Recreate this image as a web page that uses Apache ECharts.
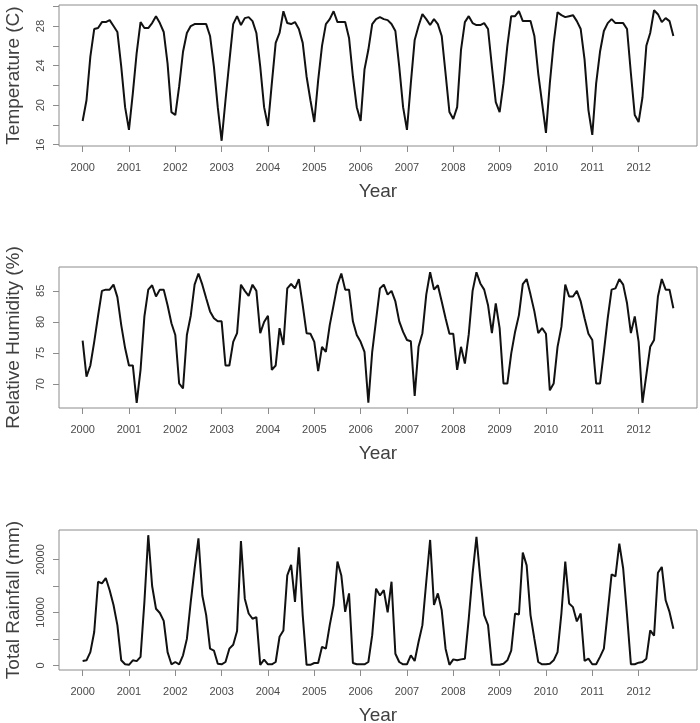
<!DOCTYPE html>
<html><head><meta charset="utf-8">
<script src="https://cdn.jsdelivr.net/npm/echarts@6/dist/echarts.min.js"></script>
<style>html,body{margin:0;padding:0;background:#fff}#c{width:700px;height:723px}</style>
</head><body><div id="c"></div>
<script>
// ---- data (monthly, Jan 2000 - Oct 2012) ----
const startYear = 2000;
const temperature = [
18.4,20.5,24.9,27.7,27.8,28.4,28.4,28.6,28.0,27.4,23.9,19.8,
17.5,21.2,25.3,28.4,27.8,27.8,28.3,29.0,28.3,27.4,24.2,19.3,
19.0,21.9,25.4,27.3,28.0,28.2,28.2,28.2,28.2,27.0,23.9,19.8,
16.4,20.5,24.4,28.2,29.0,28.1,28.8,28.9,28.5,27.3,23.9,19.8,
17.9,22.2,26.3,27.3,29.5,28.3,28.2,28.4,27.7,26.3,22.9,20.5,
18.3,22.5,26.0,28.2,28.7,29.5,28.4,28.4,28.4,26.8,22.9,19.8,
18.4,23.6,25.6,28.2,28.7,28.9,28.7,28.6,28.2,27.5,23.9,19.8,
17.5,22.2,26.6,28.0,29.2,28.7,28.1,28.7,28.2,27.0,23.2,19.3,
18.6,19.8,25.6,28.4,29.0,28.3,28.1,28.1,28.3,27.7,23.9,20.3,
19.3,22.2,26.0,29.0,29.0,29.5,28.5,28.5,28.5,27.0,23.2,20.2,
17.2,22.2,26.3,29.4,29.1,28.9,29.0,29.1,28.5,27.7,24.6,19.5,
17.0,22.2,25.4,27.5,28.3,28.7,28.3,28.3,28.3,27.7,23.2,19.0,
18.3,20.8,26.0,27.3,29.6,29.2,28.4,28.8,28.5,27.0
];
const humidity = [
77.0,71.2,73.0,76.8,81.0,85.0,85.2,85.2,86.0,84.0,79.5,75.8,
73.0,73.0,67.0,72.3,80.9,85.2,85.9,84.1,85.2,85.2,82.7,79.8,
77.9,70.1,69.3,77.9,81.0,86.0,87.8,86.0,83.8,81.7,80.6,80.1,
80.1,73.0,73.0,76.8,78.2,86.0,85.0,84.2,86.0,85.0,78.2,80.0,
81.0,72.3,73.0,79.0,76.3,85.4,86.1,85.4,86.9,82.7,78.2,78.1,
76.8,72.1,76.0,75.2,79.5,82.7,86.0,87.8,85.2,85.2,80.1,77.9,
76.8,75.2,67.0,75.2,80.3,85.4,86.0,84.4,85.0,83.3,80.1,78.4,
77.1,76.9,68.1,76.0,78.2,84.4,88.0,85.2,85.9,83.3,80.6,78.1,
78.1,72.3,76.0,73.3,78.0,85.0,88.0,86.2,85.2,82.7,78.2,83.0,
79.0,70.1,70.1,74.9,78.4,81.1,86.1,86.9,84.4,81.7,78.2,79.0,
78.1,69.0,70.1,76.0,79.2,86.0,84.1,84.1,85.0,83.3,80.6,78.1,
77.1,70.1,70.1,75.2,80.6,85.2,85.4,86.9,86.0,83.0,78.2,80.9,
76.8,67.0,71.5,76.0,77.1,84.1,86.9,85.2,85.2,82.2
];
const rainfall = [
820,950,2500,6300,15800,15500,16500,14200,11400,7600,950,200,
100,950,800,1600,12000,24600,15000,10700,9900,8400,2500,200,
630,200,1900,5000,12000,18300,24000,13200,9500,3150,2800,300,
200,630,3150,3900,6500,23500,12600,9800,8800,9100,100,1070,
200,200,630,5400,6600,17000,19000,12000,22300,9500,100,100,
440,440,3500,3150,7600,11400,19600,17000,10100,13600,440,200,
200,200,630,5700,14500,13200,14200,10000,15800,2200,630,200,
200,1900,820,4400,7600,15800,23700,11400,13600,10400,3150,100,
1130,950,1130,1260,8800,17350,24300,16400,9500,7600,100,100,
100,300,950,2800,9800,9600,21300,18900,9500,5000,630,200,
200,300,950,2500,9800,19600,11700,11000,8300,9800,820,1260,
200,200,1600,3150,10100,17200,16800,23000,18300,9500,200,200,
500,630,1260,6600,5600,17500,18600,12300,10100,6900
];
const yearTicks = [2000,2001,2002,2003,2004,2005,2006,2007,2008,2009,2010,2011,2012];
const tempTicks = [16,18,20,22,24,26,28,30];
const tempLabels = [16,20,24,28];
const humTicks = [70,75,80,85];
const humLabels = [70,75,80,85];
const rainTicks = [0,5000,10000,15000,20000];
const rainLabels = [0,10000,20000];
const titles = ['Temperature (C)', 'Relative Humidity (%)', 'Total Rainfall (mm)'];
const xTitle = 'Year';

// ---- chart ----
const times = temperature.map((_, i) => startYear + i / 12);
function pad(arr) { // R-style 4% range extension
  const mn = Math.min(...arr), mx = Math.max(...arr), r = mx - mn;
  return [mn - 0.04 * r, mx + 0.04 * r];
}
const xr = pad(times);
const FONT = 'Liberation Sans, Arial, sans-serif';
const panels = [
  {vals: temperature, ticks: tempTicks, labels: tempLabels, top: 5, height: 141},
  {vals: humidity, ticks: humTicks, labels: humLabels, top: 267, height: 141},
  {vals: rainfall, ticks: rainTicks, labels: rainLabels, top: 530, height: 140}
];
const grid = [], xAxis = [], yAxis = [], series = [];
panels.forEach((p, k) => {
  grid.push({left: 59, right: 3, top: p.top, height: p.height, show: true,
    borderColor: '#8c8c8c', borderWidth: 1, containLabel: false, outerBoundsMode: 'none'});
  xAxis.push({type: 'value', gridIndex: k, min: xr[0], max: xr[1],
    axisLine: {show: false, onZero: false},
    splitLine: {show: false},
    axisTick: {show: true, customValues: yearTicks, length: 6, lineStyle: {color: '#8c8c8c'}},
    axisLabel: {show: true, customValues: yearTicks, formatter: v => String(v), margin: 16,
      color: '#4a4a4a', fontSize: 11, fontFamily: FONT},
    name: xTitle, nameLocation: 'middle', nameGap: 36,
    nameTextStyle: {fontSize: 19, color: '#404040', fontFamily: FONT}
  });
  const yr = pad(p.vals);
  yAxis.push({type: 'value', gridIndex: k, min: yr[0], max: yr[1],
    axisLine: {show: false},
    splitLine: {show: false},
    axisTick: {show: true, customValues: p.ticks, length: 6, lineStyle: {color: '#8c8c8c'}},
    axisLabel: {show: true, customValues: p.labels, formatter: v => String(v), rotate: 90, margin: 13,
      color: '#4a4a4a', fontSize: 11, fontFamily: FONT},
    name: titles[k], nameLocation: 'middle', nameGap: 36,
    nameTextStyle: {fontSize: 19, color: '#404040', fontFamily: FONT}
  });
  series.push({type: 'line', xAxisIndex: k, yAxisIndex: k, showSymbol: false, symbol: 'none',
    animation: false, lineStyle: {color: '#111', width: 2},
    data: p.vals.map((v, i) => [times[i], v])});
});
const chart = echarts.init(document.getElementById('c'));
chart.setOption({animation: false, backgroundColor: '#fff', grid, xAxis, yAxis, series});
</script></body></html>
